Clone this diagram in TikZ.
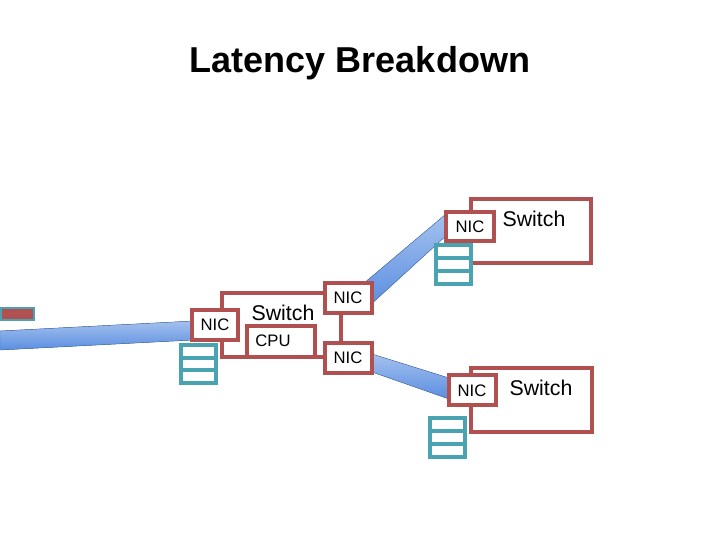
\documentclass[tikz,border=0pt]{standalone}
\usepackage{fontspec}
\setmainfont{Liberation Sans}
\begin{document}
\begin{tikzpicture}[x=0.75pt,y=-0.75pt,
  box/.style={draw=rd,line width=2.3pt,fill=white},
  buf/.style={draw=tl,line width=2.3pt,fill=white},
  lbl/.style={font=\fontsize{12.5}{12.5}\selectfont,inner sep=0pt},
  big/.style={font=\fontsize{16}{16}\selectfont,inner sep=0pt},
  cable/.style={top color=cb!55!white,bottom color=cb,draw=cb!80!black,line width=0.3pt}]
\definecolor{rd}{HTML}{B05050}
\definecolor{tl}{HTML}{4AA3B0}
\definecolor{cb}{HTML}{5A8EE0}
\useasboundingbox (0,0) rectangle (720,540);
\node[font=\bfseries\fontsize{27}{27}\selectfont] (title) at (360,63) {Latency Breakdown};
% left device
\draw[draw=tl,line width=2.2pt,fill=rd] (1,308) rectangle (34,320);
% cables
\fill[cable] (0,331) -- (193,321) -- (193,340) -- (0,350) -- cycle;
\fill[cable] (357,289) -- (446,214) -- (448,234) -- (368,307) -- cycle;
\fill[cable] (372,354) -- (449,378) -- (449,399) -- (372,372) -- cycle;
% middle switch
\draw[box] (222,293) rectangle (341,357);
\node[big] (sw1) at (283,313) {Switch};
\draw[box] (247,326) rectangle (315,357);
\node[lbl] (cpu) at (273,341) {CPU};
\draw[box] (192,310) rectangle (238,340); \node[lbl] (nic1) at (215,325) {NIC};
\draw[box] (325,283) rectangle (372,313); \node[lbl] (nic2) at (348,298) {NIC};
\draw[box] (325,343) rectangle (372,373); \node[lbl] (nic3) at (348,358) {NIC};
\draw[buf] (181,345) rectangle (216,383) (181,358) -- (216,358) (181,370) -- (216,370);
% top right
\draw[box] (471,199) rectangle (591,263);
\node[big] (sw2) at (534,219) {Switch};
\draw[box] (446,212) rectangle (494,241); \node[lbl] (nic4) at (470,227) {NIC};
\draw[buf] (436,245) rectangle (471,284) (436,258) -- (471,258) (436,271) -- (471,271);
% bottom right
\draw[box] (471,368) rectangle (592,432);
\node[big] (sw3) at (541,388) {Switch};
\draw[box] (449,375) rectangle (496,405); \node[lbl] (nic5) at (472,391) {NIC};
\draw[buf] (430,418) rectangle (465,457) (430,431) -- (465,431) (430,444) -- (465,444);
\end{tikzpicture}
\end{document}
